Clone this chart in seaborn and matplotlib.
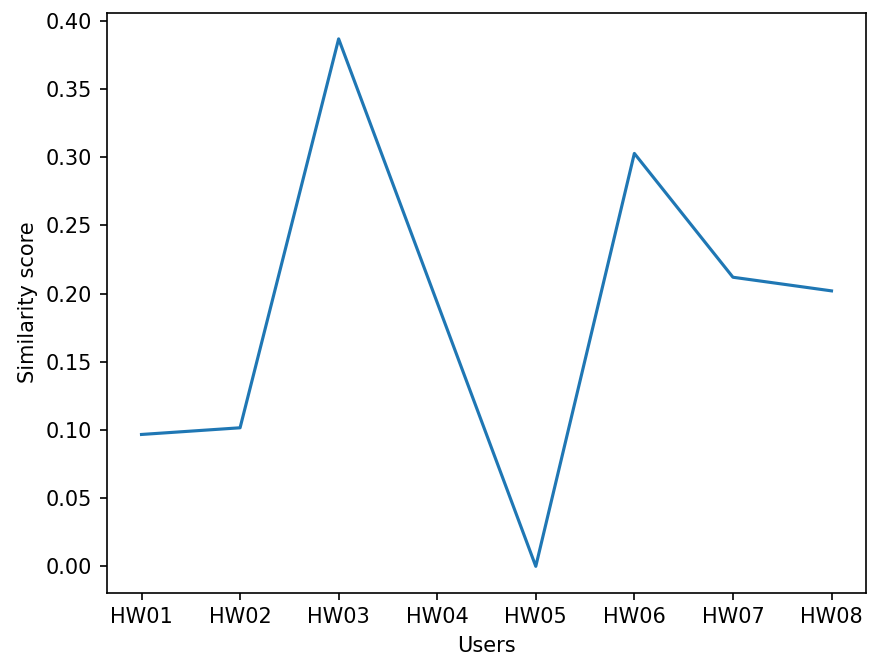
# similarity scores per user
import matplotlib
matplotlib.use('Agg')
import matplotlib.pyplot as plt
import seaborn as sns
import pandas as pd

users = ['HW01', 'HW02', 'HW03', 'HW04', 'HW05', 'HW06', 'HW07', 'HW08']
scores = [0.0967, 0.1016, 0.3868, 0.1934, 0.0, 0.3028, 0.2120, 0.2020]

df = pd.DataFrame({'Users': users, 'Similarity score': scores})

fig, ax = plt.subplots(figsize=(882 / 150, 660 / 150), dpi=150)
fig.subplots_adjust(left=107 / 882, right=866 / 882, top=1 - 12.5 / 660, bottom=1 - 592.7 / 660)

sns.lineplot(data=df, x='Users', y='Similarity score', ax=ax, sort=False)

ax.set_xlabel('Users')
ax.set_ylabel('Similarity score')

plt.savefig('out.png', dpi=150)
